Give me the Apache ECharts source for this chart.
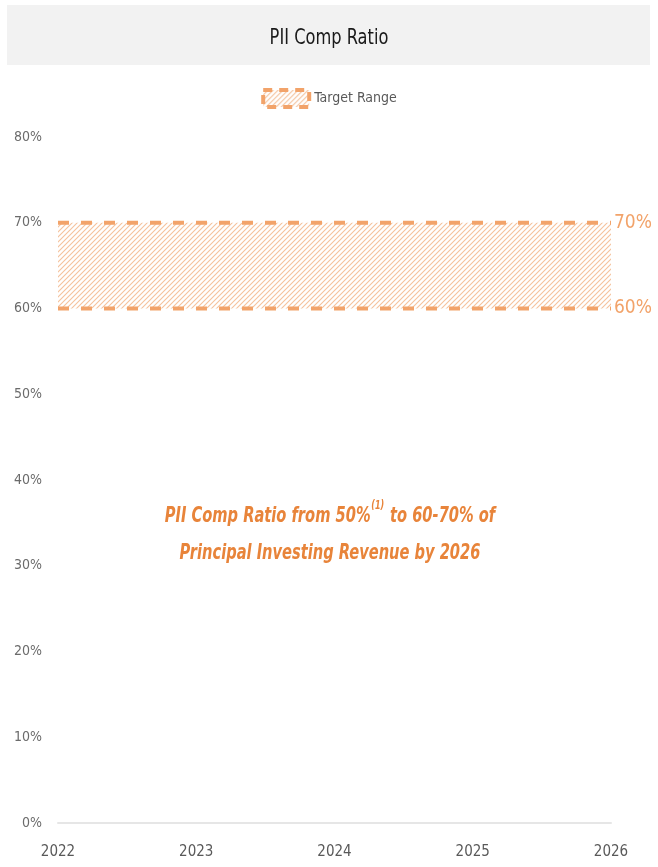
<!DOCTYPE html>
<html>
<head>
<meta charset="utf-8">
<script src="https://cdn.jsdelivr.net/npm/echarts@6/dist/echarts.min.js"></script>
<style>
  html, body { margin: 0; padding: 0; background: #ffffff; }
  #chart { width: 658px; height: 867px; }
</style>
</head>
<body>
<div id="chart"></div>
<script>
// Years on the horizontal axis
const years = ['2022', '2023', '2024', '2025', '2026'];
// Target comp ratio range (%), floor and ceiling per year
const targetLow = [60, 60, 60, 60, 60];
const targetHigh = [70, 70, 70, 70, 70];
// Y axis ticks (%)
const yTicks = [0, 10, 20, 30, 40, 50, 60, 70, 80];

const ORANGE = '#f2a36a';
const ORANGE_TEXT = '#e8843a';
const FONT = "'Liberation Sans Narrow', 'DejaVu Sans Condensed', 'Open Sans', sans-serif";

// Diagonal hatch used inside the target band
function makeHatch() {
  const c = document.createElement('canvas');
  const s = 5;
  c.width = s; c.height = s;
  const ctx = c.getContext('2d');
  ctx.fillStyle = '#ffffff';
  ctx.fillRect(0, 0, s, s);
  ctx.strokeStyle = '#f5c29c';
  ctx.lineWidth = 1.1;
  ctx.beginPath();
  ctx.moveTo(0, s); ctx.lineTo(s, 0);
  ctx.moveTo(-1, 1); ctx.lineTo(1, -1);
  ctx.moveTo(s - 1, s + 1); ctx.lineTo(s + 1, s - 1);
  ctx.stroke();
  return c;
}
const hatch = { image: makeHatch(), repeat: 'repeat' };

const bandWidth = targetHigh.map((h, i) => h - targetLow[i]);

const chart = echarts.init(document.getElementById('chart'), null, { renderer: 'canvas' });

chart.setOption({
  backgroundColor: '#ffffff',
  animation: false,
  textStyle: { fontFamily: FONT },
  graphic: [
    {
      type: 'rect', z: -1, silent: true,
      shape: { x: 7, y: 5, width: 643, height: 60 },
      style: { fill: '#f2f2f2' }
    },
    {
      // chart heading, slightly condensed
      type: 'text', silent: true,
      x: 329, y: 39, scaleX: 0.86,
      style: {
        text: 'PII Comp Ratio',
        align: 'center', verticalAlign: 'middle',
        fontFamily: FONT, fontSize: 21, fill: '#1a1a1a'
      }
    },
    {
      // callout in the middle of the plot
      type: 'text', silent: true,
      x: 330, y: 498, scaleX: 0.74,
      style: {
        text: '{m|PII Comp Ratio from 50%}{s|(1)}{m| to 60-70% of}\n{m|Principal Investing Revenue by 2026}',
        align: 'center',
        verticalAlign: 'top',
        rich: {
          m: { fontFamily: FONT, fontSize: 22, fontWeight: 'bold', fontStyle: 'italic', fill: ORANGE_TEXT, lineHeight: 37 },
          s: { fontFamily: FONT, fontSize: 12, fontWeight: 'bold', fontStyle: 'italic', fill: ORANGE_TEXT, lineHeight: 37, verticalAlign: 'top', padding: [2, 1, 0, 1] }
        }
      }
    }
  ],
  legend: {
    data: [{
      name: 'Target Range',
      icon: 'rect',
      itemStyle: { color: hatch, borderColor: ORANGE, borderWidth: 4, borderType: [9, 7] }
    }],
    top: 83,
    left: 'center',
    itemWidth: 46,
    itemHeight: 17,
    itemGap: 6,
    textStyle: { fontFamily: FONT, fontSize: 14, color: '#595959' }
  },
  grid: { left: 58, right: 47, top: 137, bottom: 44, containLabel: false },
  xAxis: {
    type: 'category',
    data: years,
    boundaryGap: false,
    axisLine: { show: true, lineStyle: { color: '#e6e6e6', width: 2 } },
    axisTick: { show: false },
    axisLabel: { fontFamily: FONT, fontSize: 15, color: '#595959', margin: 22 },
    splitLine: { show: false }
  },
  yAxis: {
    type: 'value',
    min: yTicks[0],
    max: yTicks[yTicks.length - 1],
    interval: yTicks[1] - yTicks[0],
    axisLine: { show: false },
    axisTick: { show: false },
    splitLine: { show: false },
    axisLabel: { fontFamily: FONT, fontSize: 14, color: '#6b6b6b', margin: 16, formatter: '{value}%' }
  },
  series: [
    {
      name: 'Target Floor',
      type: 'line',
      stack: 'band',
      data: targetLow,
      symbol: 'none',
      silent: true,
      lineStyle: { color: ORANGE, width: 4, type: [11, 12] },
      endLabel: {
        show: true,
        formatter: p => targetLow[p.dataIndex] + '%',
        fontFamily: FONT, fontSize: 19, color: ORANGE, distance: 3
      }
    },
    {
      name: 'Target Range',
      type: 'line',
      stack: 'band',
      data: bandWidth,
      symbol: 'none',
      silent: true,
      lineStyle: { color: ORANGE, width: 4, type: [11, 12] },
      areaStyle: { color: hatch, opacity: 1 },
      endLabel: {
        show: true,
        formatter: p => targetHigh[p.dataIndex] + '%',
        fontFamily: FONT, fontSize: 19, color: ORANGE, distance: 3
      }
    }
  ]
});
</script>
</body>
</html>
